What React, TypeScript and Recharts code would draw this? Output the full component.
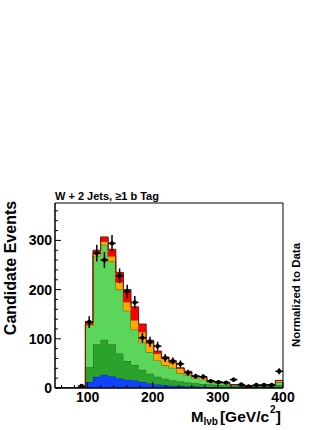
import React from "react";
import {
  Area,
  ComposedChart,
  ErrorBar,
  ReferenceArea,
  Scatter,
  XAxis,
  YAxis,
} from "recharts";

// 30 bins from 50 to 400 GeV/c^2
const binEdges = [
  50, 61.67, 73.33, 85, 96.67, 108.33, 120, 131.67, 143.33, 155, 166.67,
  178.33, 190, 201.67, 213.33, 225, 236.67, 248.33, 260, 271.67, 283.33, 295,
  306.67, 318.33, 330, 341.67, 353.33, 365, 376.67, 388.33, 400,
];

// stacked templates, bottom to top
const blue = [
  0, 0, 0, 0, 12, 23, 27, 24, 20, 17, 15, 12, 9, 7, 5.5, 4.5, 4, 3.5, 3, 2.5,
  2, 1.5, 1.5, 1, 1, 1, 1, 1, 1, 1,
];
const darkGreen = [
  0, 0, 0, 0, 30, 66, 71, 65, 50, 38, 32, 25, 20, 16, 13.5, 11.5, 9, 7.5, 6.5,
  5.5, 5, 4.5, 4, 3.5, 3, 2.5, 2.5, 3, 3, 5,
];
const lightGreen = [
  0, 0, 0, 0, 85, 179, 193, 168, 130, 102, 72, 55, 44, 33, 27, 25, 17, 15, 10,
  9, 4, 4, 3.5, 1.5, 1.5, 1, 1, 1, 2, 6,
];
const orange = [
  0, 0, 0, 0, 2, 6, 7, 11, 15, 18, 19, 22, 18, 14, 14, 10, 10, 7, 4, 5, 3, 2,
  2, 1, 1, 0.5, 0.5, 1, 1, 3,
];
const red = [
  0, 0, 0, 0, 6, 6, 9, 14, 20, 25, 27, 16, 6, 5, 3, 2, 1, 1, 1, 1, 0.5, 0.5,
  0.5, 0, 0, 0, 0, 0, 0, 0.5,
];

// observed data
const observed = [
  null, null, null, 4, 134, 274, 260, 294, 228, 196, 174, 102, 94, 85, 61, 55,
  49, 31, 24, 23, 14, 12, 11, 17, 7, 3, 6, 6, 6, 34,
];
const observedErr = [
  0, 0, 0, 2, 12, 17, 16, 17, 15, 14, 13, 10, 10, 9, 8, 7, 7, 6, 5, 5, 4, 3.5,
  3.3, 4, 2.6, 1.7, 2.4, 2.4, 2.4, 6,
];

const xTicks = [
  60, 80, 100, 120, 140, 160, 180, 200, 220, 240, 260, 280, 300, 320, 340, 360,
  380, 400,
];
const yTicks = [
  0, 20, 40, 60, 80, 100, 120, 140, 160, 180, 200, 220, 240, 260, 280, 300, 320,
  340, 360,
];

const font = '"Liberation Sans", Arial, sans-serif';

// step rows: one per lower bin edge, plus the closing edge at 400
const histRows = binEdges.map((x, i) => {
  const b = Math.min(i, blue.length - 1);
  return {
    x,
    blue: blue[b],
    darkGreen: darkGreen[b],
    lightGreen: lightGreen[b],
    orange: orange[b],
    red: red[b],
  };
});

const dataPoints = observed
  .map((y, i) => ({
    x: (binEdges[i] + binEdges[i + 1]) / 2,
    y,
    ex: (binEdges[i + 1] - binEdges[i]) / 2,
    ey: observedErr[i],
  }))
  .filter((d) => d.y !== null);

const XTick = (props: any) => {
  const { x, y, payload } = props;
  const major = payload.value % 100 === 0;
  return (
    <g>
      <line x1={x} y1={y} x2={x} y2={y - (major ? 6 : 3)} stroke="#000" />
      {major && (
        <text
          x={x}
          y={y + 14}
          textAnchor="middle"
          fontFamily={font}
          fontWeight="bold"
          fontSize={14}
          fill="#000"
        >
          {payload.value}
        </text>
      )}
    </g>
  );
};

const YTick = (props: any) => {
  const { x, y, payload } = props;
  const major = payload.value % 100 === 0;
  return (
    <g>
      <line x1={x} y1={y} x2={x + (major ? 6 : 3)} y2={y} stroke="#000" />
      {major && (
        <text
          x={x - 3}
          y={y + 5}
          textAnchor="end"
          fontFamily={font}
          fontWeight="bold"
          fontSize={14}
          fill="#000"
        >
          {payload.value}
        </text>
      )}
    </g>
  );
};

const layers = [
  { key: "blue", fill: "#1043ff", stroke: "#0a2a9a" },
  { key: "darkGreen", fill: "#2ba32b", stroke: "#1c651c" },
  { key: "lightGreen", fill: "#5bd65b", stroke: "#2f6f2f" },
  { key: "orange", fill: "#ffa800", stroke: "#8a5a00" },
  { key: "red", fill: "#ff0000", stroke: "#7a1010" },
];

export default function App() {
  return (
    <div style={{ position: "absolute", left: 0, top: 0, width: 332, height: 430, background: "#fff" }}>
      <ComposedChart
        width={332}
        height={430}
        data={histRows}
        margin={{ top: 203, right: 49, bottom: 0, left: 0 }}
      >
        <XAxis
          dataKey="x"
          type="number"
          domain={[50, 400]}
          ticks={xTicks}
          interval={0}
          allowDataOverflow
          height={42}
          tickSize={0}
          tickMargin={0}
          tick={<XTick />}
          axisLine={{ stroke: "#000" }}
        />
        <YAxis
          type="number"
          domain={[0, 376]}
          ticks={yTicks}
          interval={0}
          allowDataOverflow
          width={55}
          tickSize={0}
          tickMargin={0}
          tick={<YTick />}
          axisLine={{ stroke: "#000" }}
        />
        {layers.map((l) => (
          <Area
            key={l.key}
            dataKey={l.key}
            stackId="mc"
            type="stepAfter"
            fill={l.fill}
            fillOpacity={1}
            stroke={l.stroke}
            strokeWidth={1}
            dot={false}
            activeDot={false}
            isAnimationActive={false}
          />
        ))}
        <Scatter
          data={dataPoints}
          dataKey="y"
          isAnimationActive={false}
          shape={(p: any) => <circle cx={p.cx} cy={p.cy} r={2.2} fill="#000" />}
        >
          <ErrorBar dataKey="ey" direction="y" width={0} stroke="#000" strokeWidth={1.5} />
          <ErrorBar dataKey="ex" direction="x" width={0} stroke="#000" strokeWidth={1.5} />
        </Scatter>
        <ReferenceArea
          x1={50}
          x2={400}
          y1={0}
          y2={376}
          fill="none"
          stroke="#000"
          strokeWidth={1}
          ifOverflow="visible"
        />
      </ComposedChart>
      <svg
        width={332}
        height={430}
        style={{ position: "absolute", left: 0, top: 0, pointerEvents: "none" }}
      >
        <g fontFamily={font} fontWeight="bold" fill="#000">
          <text x={55} y={200} fontSize={11}>
            W + 2 Jets, ≥1 b Tag
          </text>
          <text
            x={16}
            y={268}
            fontSize={16}
            textAnchor="middle"
            transform="rotate(-90 16 268)"
          >
            Candidate Events
          </text>
          <text
            x={300}
            y={295}
            fontSize={11.5}
            textAnchor="middle"
            transform="rotate(-90 300 295)"
          >
            Normalized to Data
          </text>
          <text x={191} y={422} fontSize={15}>
            M
            <tspan fontSize={10} dy={3}>
              lνb
            </tspan>
            <tspan fontSize={15.5} dy={-3} dx={2}>
              [GeV/c
            </tspan>
            <tspan fontSize={10} dy={-9} dx={1}>
              2
            </tspan>
            <tspan fontSize={15.5} dy={9}>
              ]
            </tspan>
          </text>
        </g>
      </svg>
    </div>
  );
}
